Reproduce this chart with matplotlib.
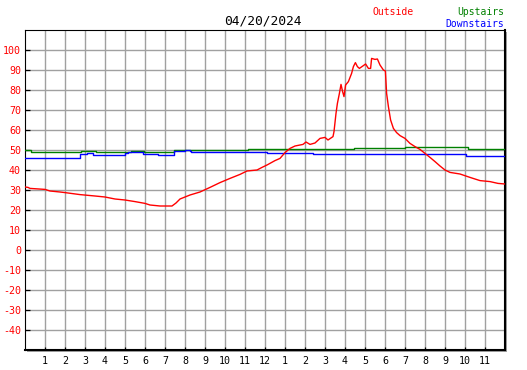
import matplotlib
matplotlib.use("Agg")
import matplotlib.pyplot as plt
from matplotlib.patches import Rectangle

title = "04/20/2024"
x_tick_pos = list(range(1, 24))
x_tick_labels = ["1", "2", "3", "4", "5", "6", "7", "8", "9", "10", "11", "12",
                 "1", "2", "3", "4", "5", "6", "7", "8", "9", "10", "11"]
y_ticks = list(range(-40, 101, 10))

outside_h = [0.00, 0.15, 0.25, 1.00, 1.25, 1.75, 2.00, 2.75, 3.50, 4.00, 4.50, 5.00,
             5.50, 6.00, 6.25, 6.75, 7.35, 7.55, 7.75, 8.25, 8.75, 9.25, 9.75, 10.25,
             10.75, 11.10, 11.60, 11.85, 12.10, 12.50, 12.75, 13.00, 13.25, 13.50,
             13.75, 13.90, 14.05, 14.25, 14.50, 14.75, 15.00, 15.15, 15.40, 15.45,
             15.55, 15.62, 15.72, 15.80, 15.88, 15.95, 16.03, 16.17, 16.33, 16.42,
             16.52, 16.62, 16.72, 16.92, 17.03, 17.17, 17.28, 17.33, 17.50, 17.62,
             17.75, 17.92, 18.02, 18.08, 18.17, 18.28, 18.42, 18.58, 18.75, 19.00,
             19.25, 19.50, 19.75, 20.00, 20.25, 20.50, 20.75, 21.00, 21.25, 21.75,
             22.25, 22.75, 23.25, 23.65, 24.00]
outside_v = [31.5, 31.3, 30.8, 30.3, 29.5, 29.0, 28.7, 27.7, 27.0, 26.5, 25.5, 25.0,
             24.2, 23.3, 22.5, 22.0, 22.0, 23.5, 25.5, 27.5, 29.0, 31.3, 33.7, 35.8,
             37.8, 39.5, 40.0, 41.3, 42.5, 44.7, 45.8, 48.7, 50.8, 52.0,
             52.5, 52.8, 54.0, 52.8, 53.5, 55.8, 56.3, 55.0, 56.7, 59.2,
             68.3, 73.3, 78.3, 82.8, 79.2, 76.7, 82.5, 84.2, 88.3, 91.7,
             93.7, 91.7, 90.8, 92.2, 93.0, 90.8, 90.8, 95.8, 95.3, 95.5,
             92.5, 90.0, 89.5, 78.3, 71.7, 65.0, 60.8, 58.7, 57.2, 55.8,
             53.3, 51.7, 50.3, 48.3, 46.3, 44.2, 42.0, 40.0, 38.8, 38.0,
             36.3, 34.7, 34.2, 33.3, 33.0]

upstairs_h = [0.00, 0.30, 0.31, 2.75, 2.80, 3.50, 3.55, 5.25, 5.30, 5.90, 5.95,
              7.40, 7.45, 11.10, 11.15, 16.40, 16.45, 18.95, 19.00, 22.10, 22.15, 24.00]
upstairs_v = [49.8, 49.8, 49.0, 49.0, 49.5, 49.5, 49.0, 49.0, 49.5, 49.5, 49.0,
              49.0, 50.0, 50.0, 50.5, 50.5, 51.0, 51.0, 51.3, 51.3, 50.3, 50.3]

downstairs_h = [0.00, 2.65, 2.75, 3.10, 3.40, 4.95, 5.00, 5.15, 5.85, 5.90, 6.60,
                6.65, 7.35, 7.45, 8.00, 8.25, 8.30, 12.05, 12.10, 14.35, 14.40,
                22.00, 22.05, 24.00]
downstairs_v = [45.8, 45.8, 47.8, 48.3, 47.5, 47.5, 48.3, 48.8, 48.8, 48.0, 48.0,
                47.5, 47.5, 49.5, 50.0, 49.7, 48.8, 48.8, 48.3, 48.3, 47.8,
                47.8, 47.2, 47.2]

W, H = 527, 370
fig = plt.figure(figsize=(W / 100, H / 100), dpi=100)
fig.patch.set_facecolor("white")

L, B, AW, AH = 25, 20, 480, 320
shadow = Rectangle(((L + 2) / W, (B - 2) / H), AW / W, AH / H, transform=fig.transFigure,
                   facecolor="#a0a0a0", edgecolor="none", zorder=-5)
fig.patches.append(shadow)

ax = fig.add_axes([L / W, B / H, AW / W, AH / H])
ax.set_facecolor("white")
ax.set_xlim(0, 24)
ax.set_ylim(-50, 110)

ax.plot(upstairs_h, upstairs_v, color="#008000", lw=1.0, drawstyle="steps-post", zorder=3)
ax.plot(downstairs_h, downstairs_v, color="#0000ff", lw=1.0, drawstyle="steps-post", zorder=3)
ax.plot(outside_h, outside_v, color="#ff0000", lw=1.0, zorder=4)

ax.set_xticks(x_tick_pos)
ax.set_xticklabels(x_tick_labels)
ax.set_yticks(y_ticks)
ax.set_yticklabels([str(v) for v in y_ticks])
ax.grid(True, color="#a0a0a0", lw=1.0)
ax.set_axisbelow(True)

mono = "DejaVu Sans Mono"
ax.tick_params(axis="y", direction="in", length=3.6, width=0.9, colors="black",
               labelcolor="#ff0000", pad=2.9, labelsize=7.2)
ax.tick_params(axis="x", direction="in", length=2.4, width=0.9, colors="black",
               labelcolor="black", pad=4.0, labelsize=7.2)
for lab in ax.get_xticklabels() + ax.get_yticklabels():
    lab.set_family(mono)

ax.spines["left"].set_linewidth(0.8)
ax.spines["top"].set_linewidth(0.8)
ax.spines["right"].set_linewidth(1.5)
ax.spines["bottom"].set_linewidth(1.5)
for s in ax.spines.values():
    s.set_color("black")

fig.text(262.5 / W, 1 - 25 / H, title, family=mono, fontsize=9.3, color="black",
         ha="center", va="baseline")
fig.text(372.5 / W, 1 - 15 / H, "Outside", family=mono, fontsize=7.05, color="#ff0000",
         ha="left", va="baseline")
fig.text(504.5 / W, 1 - 15 / H, "Upstairs", family=mono, fontsize=7.05, color="#008000",
         ha="right", va="baseline")
fig.text(504.5 / W, 1 - 27 / H, "Downstairs", family=mono, fontsize=7.05, color="#0000ff",
         ha="right", va="baseline")

fig.savefig("out.png", dpi=100, facecolor="white")
